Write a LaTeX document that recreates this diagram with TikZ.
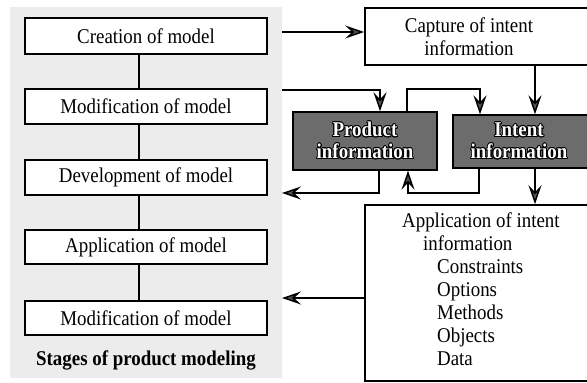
\documentclass[tikz,border=0pt]{standalone}
\usepackage{fontspec}
\setmainfont{Liberation Serif}[FakeStretch=0.9]
\usepackage[copies]{contour}
\contourlength{0.9pt}
\contournumber{16}
\usetikzlibrary{arrows.meta}

\definecolor{panelgray}{HTML}{ECECEC}
\definecolor{darkbox}{HTML}{6C6C6C}
\definecolor{tipgray}{HTML}{555555}

\tikzset{
  every node/.style={font=\fontsize{21}{23}\selectfont},
  stagebox/.style={draw=black, line width=1.8pt, fill=white, minimum width=242pt, inner sep=0pt},
  infobox/.style={draw=black, line width=1.6pt, fill=white, inner sep=0pt},
  darkinfo/.style={draw=black, line width=1.4pt, fill=darkbox, inner sep=0pt, align=center,
                   font=\fontsize{21}{22}\selectfont\bfseries},
  link/.style={line width=1.5pt},
  flow/.style={line width=1.5pt, -{Stealth[length=19pt, width=13pt, inset=7pt, fill=tipgray]}},
}
% white letters with a thin black outline
\newcommand{\whitebold}[1]{\contour{black}{\textcolor{white}{#1}}}

\begin{document}
\begin{tikzpicture}[x=1pt, y=-1pt]
  \useasboundingbox (0,0) rectangle (587,383);
  \clip (0,0) rectangle (587,383);

  % shaded panel holding the modelling stages
  \fill[panelgray] (10,7) rectangle (282,378);

  % stages of product modelling
  \node[stagebox, minimum height=36pt] (c1) at (146,36)    {Creation of model};
  \node[stagebox, minimum height=35pt] (m1) at (146,106.5) {Modification of model};
  \node[stagebox, minimum height=35pt] (d1) at (146,177.5) {Development of model};
  \node[stagebox, minimum height=34pt] (a1) at (146,247)   {Application of model};
  \node[stagebox, minimum height=34pt] (m2) at (146,318)   {Modification of model};
  \node[font=\fontsize{21}{23}\selectfont\bfseries] (title) at (146,360) {Stages of product modeling};

  \draw[link] (c1.south -| 139,0) -- (m1.north -| 139,0);
  \draw[link] (m1.south -| 139,0) -- (d1.north -| 139,0);
  \draw[link] (d1.south -| 139,0) -- (a1.north -| 139,0);
  \draw[link] (a1.south -| 139,0) -- (m2.north -| 139,0);

  % intent capture and application boxes
  \node[infobox, minimum width=230pt, minimum height=57pt] (cap) at (480,36.5) {};
  \node[align=center] (captext) at (469,37) {Capture of intent\\information};

  \node[darkinfo, minimum width=144pt, minimum height=58pt] (prod) at (365,141)
    {\whitebold{Product}\\\whitebold{information}};
  \node[darkinfo, minimum width=142pt, minimum height=53pt] (intent) at (524,141.5)
    {\hspace*{-10pt}\whitebold{Intent}\\\hspace*{-10pt}\whitebold{information}};

  \node[infobox, minimum width=230pt, minimum height=176pt] (app) at (480,293) {};
  \node[align=left, anchor=north west, inner sep=0pt] (apptext) at (402,213)
    {Application of intent\\
     \hspace*{21pt}information\\
     \hspace*{35pt}Constraints\\
     \hspace*{35pt}Options\\
     \hspace*{35pt}Methods\\
     \hspace*{35pt}Objects\\
     \hspace*{35pt}Data};

  % panel edge points where the connectors meet the stages
  \coordinate (eC) at (282,32);
  \coordinate (eM) at (282,90);
  \coordinate (eD) at (282,193);
  \coordinate (eM2) at (282,298);

  % connectors
  \draw[flow] (eC) -- (eC -| cap.west);
  \draw[flow] (eM) -- (380,90) -- (380,0 |- prod.north);
  \draw[flow] (407,0 |- prod.north) -- (407,89) -- (480,89) -- (480,0 |- intent.north);
  \draw[flow] (479,0 |- intent.south) -- (479,193) -- (408,193) -- (408,0 |- prod.south);
  \draw[flow] (379,0 |- prod.south) -- (379,193) -- (eD);
  \draw[flow] (535,0 |- cap.south) -- (535,0 |- intent.north);
  \draw[flow] (535,0 |- intent.south) -- (535,0 |- app.north);
  \draw[flow] (app.west |- eM2) -- (eM2);
\end{tikzpicture}
\end{document}
